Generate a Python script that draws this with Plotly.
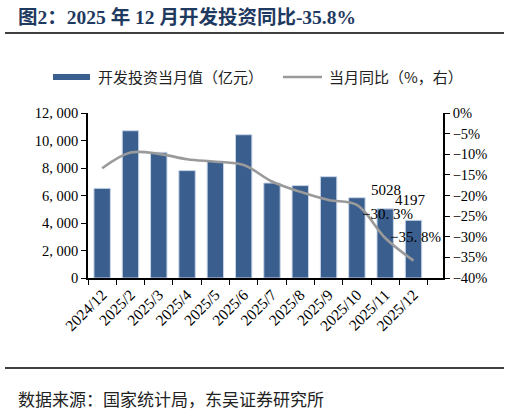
import plotly.graph_objects as go

# 数据
months = ['2024/12', '2025/2', '2025/3', '2025/4', '2025/5', '2025/6',
          '2025/7', '2025/8', '2025/9', '2025/10', '2025/11', '2025/12']
invest = [6520, 10710, 9140, 7810, 8490, 10420, 6910, 6720, 7370, 5840, 5028, 4197]
yoy = [-13.4, -9.6, -9.9, -11.2, -11.8, -12.6, -16.6, -19.1, -21.1, -22.3, -30.3, -35.8]
left_ticks = [0, 2000, 4000, 6000, 8000, 10000, 12000]
left_ticktext = ['0', '2, 000', '4, 000', '6, 000', '8, 000', '10, 000', '12, 000']

W, H = 510, 416
L, R, T, B = 88, 443, 113, 278  # 绘图区像素边界


def px_x(p):
    return (p - L) / (R - L)


def px_y(p):
    return (B - p) / (B - T)


def pct_label(v):
    # 例如 -30.3 -> "−30. 3%"
    return f'{v}%'.replace('-', '\u2212').replace('.', '. ')


serif = 'Liberation Serif, Noto Sans CJK SC, serif'
cjk = 'Noto Sans CJK SC, sans-serif'

bar_color = '#3A5F8F'
line_color = '#9A9A9A'

fig = go.Figure()

fig.add_trace(go.Bar(
    x=months, y=invest, name='开发投资当月值（亿元）',
    marker=dict(color=bar_color, line=dict(color='#C9D6E8', width=1)),
    width=0.58, yaxis='y',
))

fig.add_trace(go.Scatter(
    x=months, y=yoy, name='当月同比（%，右）', mode='lines',
    line=dict(color=line_color, width=2.6, shape='spline', smoothing=1.0),
    yaxis='y2',
))

# 数据标签
lab_font = dict(family=serif, size=15, color='#000')
annotations = [
    dict(x=months[-2], y=invest[-2], xref='x', yref='y', text=f'{invest[-2]}',
         showarrow=False, yshift=19, xshift=1, font=lab_font),
    dict(x=months[-1], y=invest[-1], xref='x', yref='y', text=f'{invest[-1]}',
         showarrow=False, yshift=20, xshift=-3, font=lab_font),
    dict(x=months[-2], y=yoy[-2], xref='x', yref='y2', text=pct_label(yoy[-2]),
         showarrow=False, yshift=24, xshift=2, font=lab_font),
    dict(x=months[-1], y=yoy[-1], xref='x', yref='y2', text=pct_label(yoy[-1]),
         showarrow=False, yshift=24, xshift=2, font=lab_font),
]

# 标题、图例、来源
annotations += [
    dict(x=px_x(16), y=px_y(17), xref='paper', yref='paper', xanchor='left', yanchor='middle',
         text='<b>图2：2025 年 12 月开发投资同比-35.8%</b>', showarrow=False,
         font=dict(family='Liberation Serif, Noto Sans CJK SC, serif', size=19.5, color='#1F3A60')),
    dict(x=px_x(96), y=px_y(77), xref='paper', yref='paper', xanchor='left', yanchor='middle',
         text='开发投资当月值（亿元）', showarrow=False,
         font=dict(family=cjk, size=15, color='#222')),
    dict(x=px_x(327), y=px_y(77), xref='paper', yref='paper', xanchor='left', yanchor='middle',
         text='当月同比（%，右）', showarrow=False,
         font=dict(family=cjk, size=15, color='#222')),
    dict(x=px_x(16), y=px_y(398), xref='paper', yref='paper', xanchor='left', yanchor='middle',
         text='数据来源：国家统计局，东吴证券研究所', showarrow=False,
         font=dict(family=cjk, size=17, color='#222')),
]

shapes = [
    dict(type='line', xref='paper', yref='paper', x0=px_x(5), x1=px_x(504),
         y0=px_y(33), y1=px_y(33), line=dict(color='#000', width=1.6)),
    dict(type='line', xref='paper', yref='paper', x0=px_x(5), x1=px_x(504),
         y0=px_y(368), y1=px_y(368), line=dict(color='#000', width=1.6)),
    dict(type='rect', xref='paper', yref='paper', x0=px_x(53), x1=px_x(90),
         y0=px_y(80), y1=px_y(74), fillcolor=bar_color, line=dict(width=0)),
    dict(type='line', xref='paper', yref='paper', x0=px_x(283), x1=px_x(322),
         y0=px_y(77), y1=px_y(77), line=dict(color=line_color, width=2.6)),
]

fig.update_layout(
    width=W, height=H,
    margin=dict(l=L, r=W - R, t=T, b=H - B, pad=0),
    paper_bgcolor='white', plot_bgcolor='white',
    showlegend=False,
    annotations=annotations,
    shapes=shapes,
    xaxis=dict(
        type='category', tickangle=-45,
        showline=True, linecolor='#000', linewidth=1.5,
        ticks='outside', ticklen=5, tickcolor='#000', tickwidth=1.2,
        tickson='boundaries', showgrid=False,
        tickfont=dict(family=serif, size=15.5, color='#000'),
    ),
    yaxis=dict(
        range=[0, 12000], tickvals=left_ticks, ticktext=left_ticktext,
        showline=True, linecolor='#000', linewidth=1.5,
        ticks='outside', ticklen=5, tickcolor='#000', tickwidth=1.2,
        showgrid=False, zeroline=False,
        tickfont=dict(family=serif, size=14.5, color='#000'),
    ),
    yaxis2=dict(
        range=[-40, 0], dtick=5, ticksuffix='%', overlaying='y', side='right',
        showline=True, linecolor='#000', linewidth=1.5,
        ticks='outside', ticklen=5, tickcolor='#000', tickwidth=1.2,
        showgrid=False, zeroline=False,
        tickfont=dict(family=serif, size=14.5, color='#000'),
    ),
)

# 去掉页面默认边距，使图表贴齐窗口左上角
fig.write_html('out.html', config={'displayModeBar': False},
               post_script="document.body.style.margin='0';")
